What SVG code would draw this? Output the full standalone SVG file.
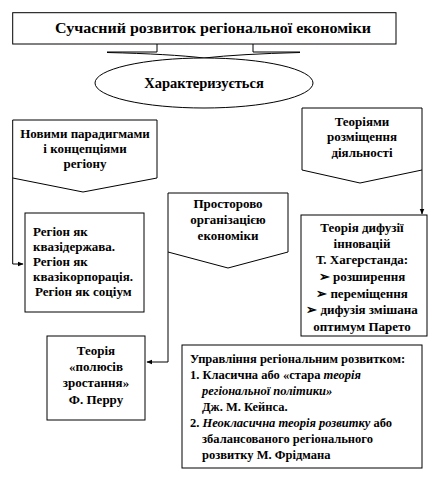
<svg xmlns="http://www.w3.org/2000/svg" width="435" height="492" viewBox="0 0 435 492">
<defs>
<style>
.b{fill:#fff;stroke:#000;stroke-width:1}
.t{font-family:'Liberation Serif','DejaVu Serif',serif;font-weight:bold;font-size:13px;fill:#000}
.m{font-size:12.5px}
.c{text-anchor:middle}
.i{font-style:italic}
.ln{fill:none;stroke:#000;stroke-width:1}
</style>
<marker id="ah" viewBox="0 0 10 10" refX="9" refY="5" markerWidth="6" markerHeight="6" orient="auto"><path d="M0,1 L10,5 L0,9 Z" fill="#000"/></marker>
</defs>
<rect width="435" height="492" fill="#fff"/>
<g id="connectors">
<path class="ln" d="M107,52 H157 V44"/>
<path class="ln" d="M253,44 V52 H300"/>
<path class="ln" d="M107,52.5 Q170,54 204,58"/>
<path class="ln" d="M300,52.5 Q240,54 204,58"/>
<path class="ln" d="M12.7,178 V264 H23" marker-end="url(#ah)"/>
<path class="ln" d="M422,170 V214" marker-end="url(#ah)"/>
<path class="ln" d="M168,252 V362 H147" marker-end="url(#ah)"/>
</g>
<g id="title">
<rect class="b" x="12.7" y="12.7" width="383.3" height="31.3"/>
<text class="t c" x="213" y="33" textLength="316" lengthAdjust="spacingAndGlyphs" style="font-size:15px">Сучасний розвиток регіональної  економіки</text>
</g>
<g id="characterizes">
<ellipse class="b" cx="204" cy="83" rx="109" ry="25"/>
<text class="t c" x="204" y="88" style="font-size:14.5px">Характеризується</text>
</g>
<g id="paradigms">
<path class="b" d="M12.7,120 H157 V178 L83,192 L12.7,178 Z"/>
<text class="t c" x="85" y="138">Новими парадигмами</text>
<text class="t c" x="85" y="153">і концепціями</text>
<text class="t c" x="85" y="168">регіону</text>
</g>
<g id="placement">
<path class="b" d="M302,108 H422 V170 L360,183 L302,170 Z"/>
<text class="t c" x="362" y="126">Теоріями</text>
<text class="t c" x="362" y="141">розміщення</text>
<text class="t c" x="362" y="157">діяльності</text>
</g>
<g id="spatial">
<path class="b" d="M168,193 H288 V252 L228,268 L168,252 Z"/>
<text class="t c" x="228" y="208">Просторово</text>
<text class="t c" x="228" y="224">організацією</text>
<text class="t c" x="228" y="240">економіки</text>
</g>
<g id="region">
<rect class="b" x="25" y="213" width="119" height="99"/>
<text class="t" x="33" y="236">Регіон як</text>
<text class="t" x="33" y="251">квазідержава.</text>
<text class="t" x="33" y="266">Регіон як</text>
<text class="t" x="33" y="281">квазікорпорація.</text>
<text class="t" x="35" y="296">Регіон як соціум</text>
</g>
<g id="diffusion">
<rect class="b" x="301" y="215" width="126" height="121"/>
<text class="t c" x="362" y="232">Теорія дифузії</text>
<text class="t c" x="362" y="248">інновацій</text>
<text class="t c" x="362" y="264">Т. Хагерстанда:</text>
<text class="t c" x="362" y="281">➢ розширення</text>
<text class="t c" x="362" y="298">➢ переміщення</text>
<text class="t c" x="362" y="314">➢ дифузія змішана</text>
<text class="t c" x="362" y="331">оптимум Парето</text>
</g>
<g id="poles">
<rect class="b" x="47" y="336" width="98" height="84"/>
<text class="t c" x="96" y="355">Теорія</text>
<text class="t c" x="96" y="371">«полюсів</text>
<text class="t c" x="96" y="387">зростання»</text>
<text class="t c" x="96" y="404">Ф. Перру</text>
</g>
<g id="management">
<rect class="b" x="182" y="345" width="240" height="123"/>
<text class="t m" x="190" y="363">Управління  регіональним розвитком:</text>
<text class="t m" x="190" y="379">1. Класична  або «стара <tspan class="i">теорія</tspan></text>
<text class="t m i" x="202" y="395">регіональної політики»</text>
<text class="t m" x="202" y="411">Дж. М. Кейнса.</text>
<text class="t m" x="190" y="427">2. <tspan class="i">Неокласична теорія розвитку</tspan> або</text>
<text class="t m" x="202" y="443">збалансованого регіонального</text>
<text class="t m" x="202" y="459">розвитку М.  Фрідмана</text>
</g>
</svg>
